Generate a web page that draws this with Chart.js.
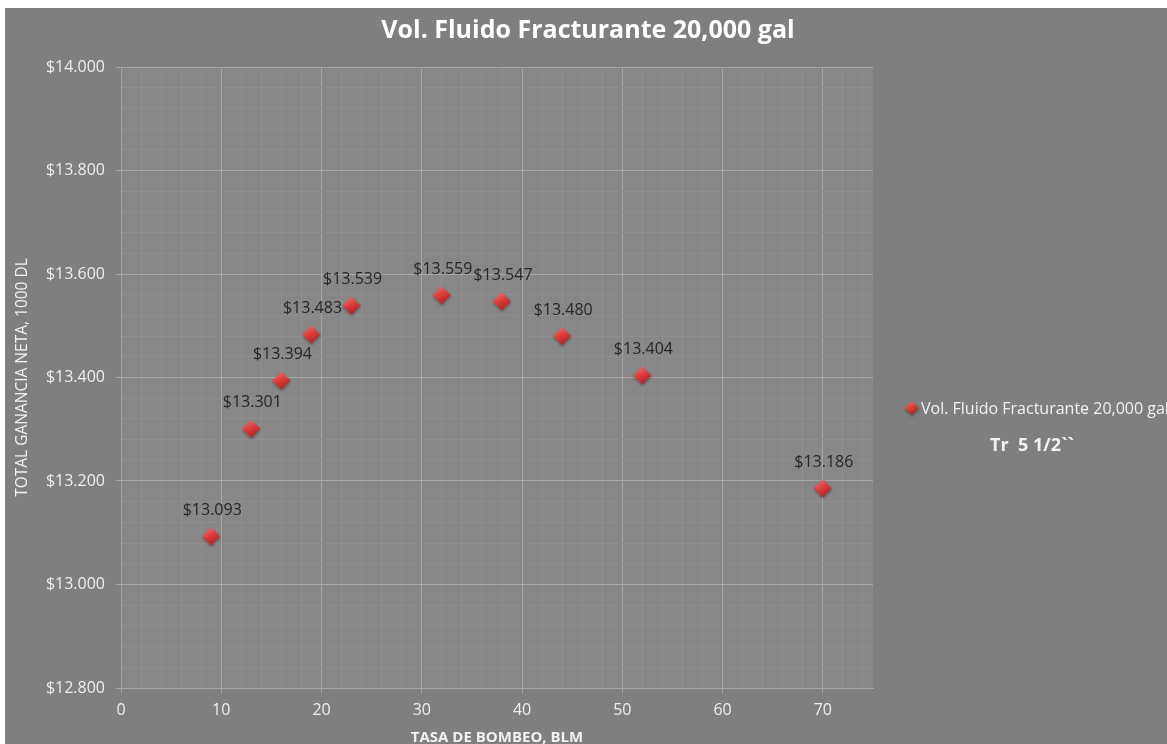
<!DOCTYPE html>
<html>
<head>
<meta charset="utf-8">
<title>Vol. Fluido Fracturante 20,000 gal</title>
<script src="https://cdn.jsdelivr.net/npm/chart.js@4"></script>
<style>
  html, body { margin: 0; padding: 0; background: #ffffff; }
  #wrap { position: absolute; left: 5px; top: 8px; width: 1162px; height: 736px; }
</style>
</head>
<body>
<div id="wrap"><canvas id="chart"></canvas></div>
<script>
// tasa de bombeo (BLM) y ganancia neta (miles de dolares)
const tasas = [9, 13, 16, 19, 23, 32, 38, 44, 52, 70]
const ganancias = [13.093, 13.301, 13.394, 13.483, 13.539, 13.559, 13.547, 13.480, 13.404, 13.186]
const titulo = 'Vol. Fluido Fracturante 20,000 gal'
const serieNombre = 'Vol. Fluido Fracturante 20,000 gal'
const nota = 'Tr  5 1/2``'

const FONT = "'Open Sans', 'Liberation Sans', sans-serif"
const MAJOR = '#a7a7a7'
const MINOR = '#8f8f8f'

// rombo rojo con degradado para los puntos
function rombo(r) {
    const c = document.createElement('canvas')
    const s = r * 2 + 8
    c.width = s
    c.height = s
    const g = c.getContext('2d')
    const cx = s / 2, cy = s / 2
    g.shadowColor = 'rgba(0,0,0,0.35)'
    g.shadowBlur = 3
    g.shadowOffsetY = 1.5
    g.beginPath()
    g.moveTo(cx, cy - r)
    g.lineTo(cx + r, cy)
    g.lineTo(cx, cy + r)
    g.lineTo(cx - r, cy)
    g.closePath()
    const grad = g.createLinearGradient(cx - r * 0.5, cy - r, cx + r * 0.5, cy + r)
    grad.addColorStop(0, '#f27070')
    grad.addColorStop(0.45, '#dc3c3c')
    grad.addColorStop(1, '#ae1f1f')
    g.fillStyle = grad
    g.fill()
    return c
}
const puntoImg = rombo(9)
const leyendaImg = rombo(7)

const esMayorY = v => Math.abs(v / 0.2 - Math.round(v / 0.2)) < 1e-6
const esMayorX = v => v % 10 === 0

const fondo = {
    id: 'fondo',
    beforeDraw(chart) {
        const {ctx, chartArea: a} = chart
        ctx.save()
        ctx.fillStyle = '#7f7f7f'
        ctx.fillRect(0, 0, chart.width, chart.height)
        ctx.fillStyle = '#878787'
        ctx.fillRect(a.left, a.top, a.right - a.left, a.bottom - a.top)
        ctx.restore()
    }
}

// etiquetas con el valor encima de cada rombo
const etiquetas = {
    id: 'etiquetas',
    afterDatasetsDraw(chart) {
        const ctx = chart.ctx
        const meta = chart.getDatasetMeta(0)
        ctx.save()
        ctx.font = '16px ' + FONT
        ctx.fillStyle = '#262626'
        ctx.textAlign = 'center'
        ctx.textBaseline = 'middle'
        meta.data.forEach((p, i) => {
            ctx.fillText('$' + ganancias[i].toFixed(3), p.x + 1, p.y - 26)
        })
        ctx.restore()
    }
}

// titulo centrado en todo el lienzo, leyenda y nota a la derecha
const textos = {
    id: 'textos',
    afterDraw(chart) {
        const ctx = chart.ctx
        ctx.save()
        ctx.fillStyle = '#ffffff'
        ctx.font = 'bold 25px ' + FONT
        ctx.textAlign = 'center'
        ctx.textBaseline = 'middle'
        ctx.fillText(titulo, chart.width / 2 + 2, 23)

        ctx.drawImage(leyendaImg, 907 - leyendaImg.width / 2, 400 - leyendaImg.height / 2)
        ctx.font = '16px ' + FONT
        ctx.fillStyle = '#f2f2f2'
        ctx.textAlign = 'left'
        ctx.fillText(serieNombre, 916, 401)
        ctx.font = 'bold 18px ' + FONT
        ctx.textAlign = 'center'
        ctx.fillText(nota, 1027, 438)
        ctx.restore()
    }
}

new Chart(document.getElementById('chart'), {
    type: 'scatter',
    data: {
        datasets: [{
            label: serieNombre,
            data: tasas.map((x, i) => ({x: x, y: ganancias[i]})),
            pointStyle: puntoImg,
            pointRadius: 9,
            pointHoverRadius: 9
        }]
    },
    options: {
        responsive: true,
        maintainAspectRatio: false,
        animation: false,
        layout: {padding: {left: 0, right: 294, top: 59, bottom: 0}},
        plugins: {
            legend: {display: false},
            tooltip: {enabled: false},
            title: {display: false}
        },
        scales: {
            x: {
                type: 'linear',
                min: 0,
                max: 75,
                afterFit(s) { s.height = 56 },
                ticks: {
                    stepSize: 2,
                    includeBounds: false,
                    autoSkip: false,
                    maxRotation: 0,
                    padding: 8,
                    color: '#eeeeee',
                    font: {family: FONT, size: 16},
                    callback: v => esMayorX(v) ? String(v) : ''
                },
                grid: {
                    color: c => c.tick && esMayorX(c.tick.value) ? MAJOR : MINOR,
                    tickColor: c => c.tick && esMayorX(c.tick.value) ? MAJOR : 'rgba(0,0,0,0)',
                    tickLength: 5
                },
                border: {color: MAJOR},
                title: {
                    display: true,
                    text: 'TASA DE BOMBEO, BLM',
                    color: '#f2f2f2',
                    font: {family: FONT, size: 15, weight: 'bold'},
                    padding: {top: 0, bottom: -3}
                }
            },
            y: {
                min: 12.8,
                max: 14.0,
                afterFit(s) { s.width = 116 },
                ticks: {
                    stepSize: 0.04,
                    autoSkip: false,
                    padding: 11,
                    color: '#eeeeee',
                    font: {family: FONT, size: 16},
                    callback: v => esMayorY(v) ? '$' + v.toFixed(3) : ''
                },
                grid: {
                    color: c => c.tick && esMayorY(c.tick.value) ? MAJOR : MINOR,
                    tickColor: c => c.tick && esMayorY(c.tick.value) ? MAJOR : 'rgba(0,0,0,0)',
                    tickLength: 5
                },
                border: {color: MAJOR},
                title: {
                    display: true,
                    text: 'TOTAL GANANCIA NETA, 1000 DL',
                    color: '#f2f2f2',
                    font: {family: FONT, size: 15.5},
                    padding: {top: 8, bottom: 0}
                }
            }
        }
    },
    plugins: [fondo, etiquetas, textos]
})
</script>
</body>
</html>
